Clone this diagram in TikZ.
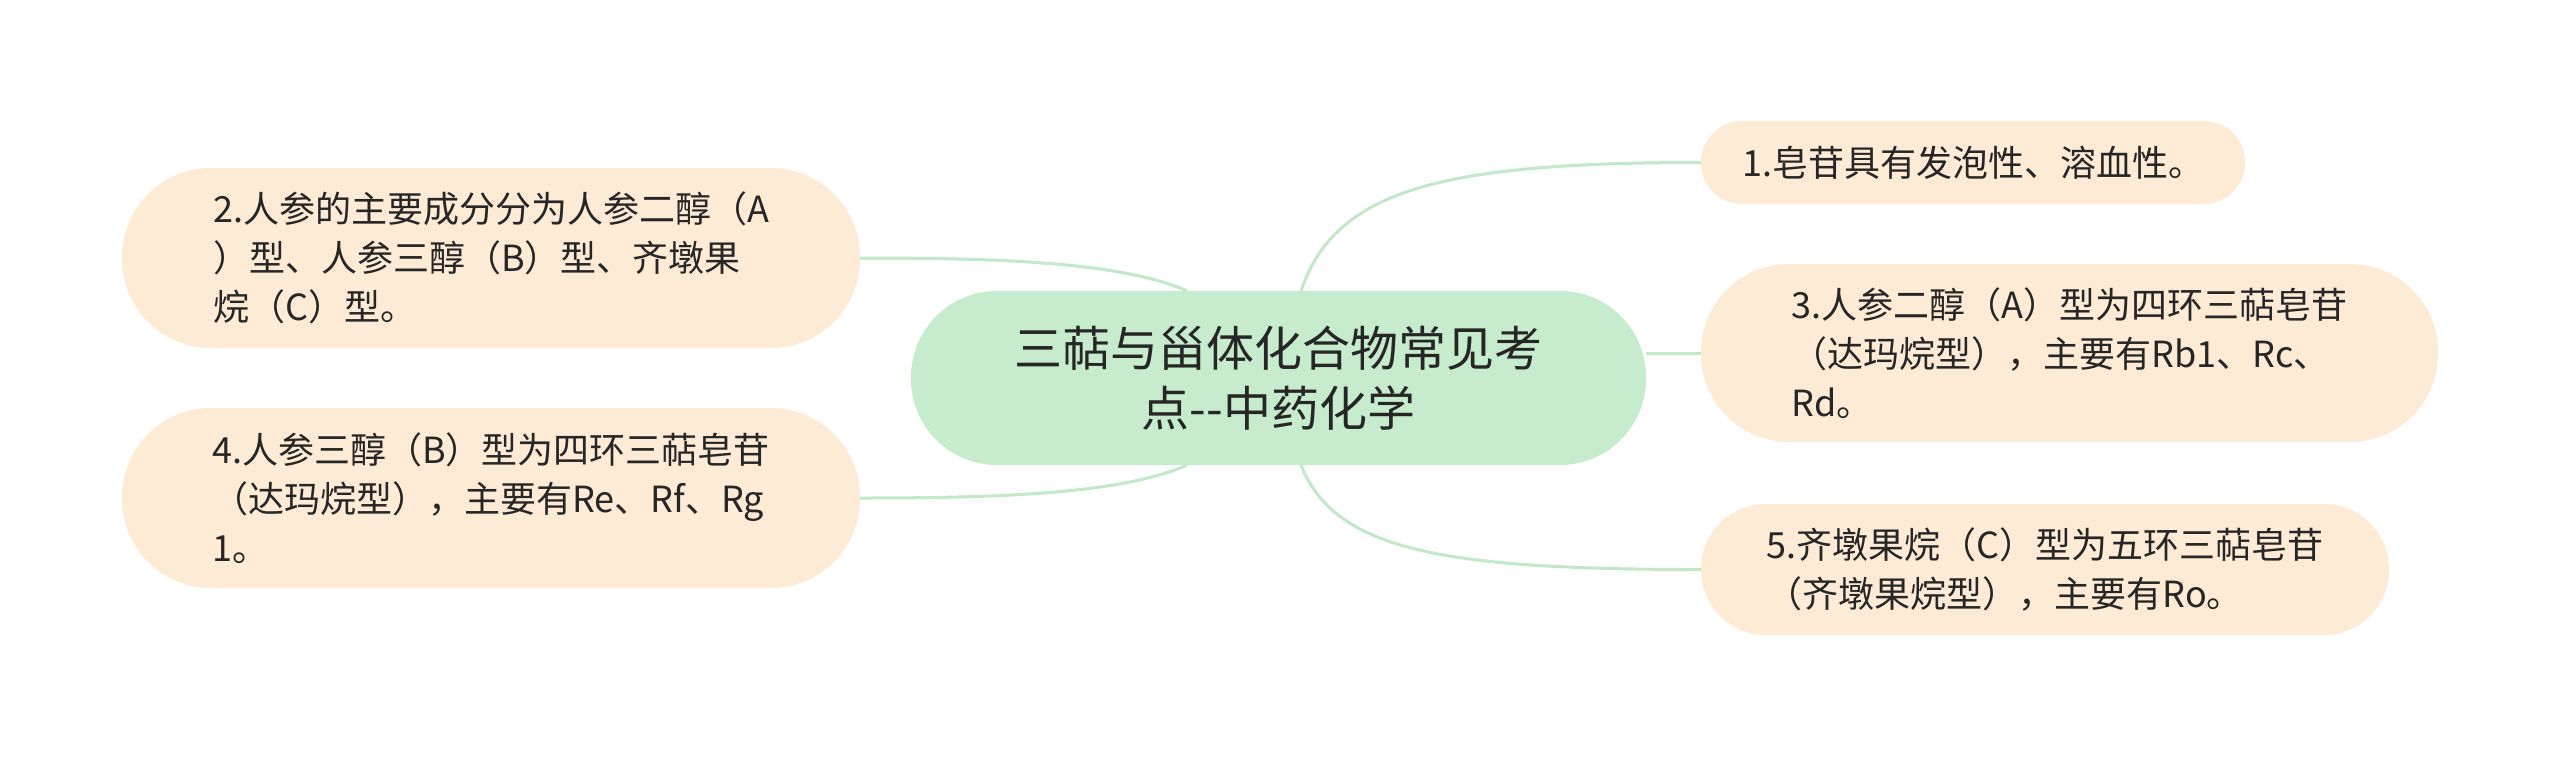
\documentclass[tikz,border=0pt]{standalone}
\usepackage{fontspec}
\setmainfont{Noto Sans CJK SC}
\usetikzlibrary{backgrounds}
\definecolor{cfill}{HTML}{C6EBCD}
\definecolor{lfill}{HTML}{FDEBD6}
\definecolor{link}{HTML}{C2E8C8}
\definecolor{txt}{HTML}{262626}
\tikzset{
  center/.style={fill=cfill, draw=none, rounded corners=86pt, minimum width=735pt, minimum height=174pt,
    text=txt, align=center, font=\fontsize{48}{60}\selectfont, inner sep=0pt},
  leaf/.style={fill=lfill, draw=none, text=txt, align=left, font=\fontsize{36}{49}\selectfont, inner sep=0pt},
  linkline/.style={draw=link, line width=3pt},
}
\begin{document}
\begin{tikzpicture}[x=1pt,y=-1pt]
\useasboundingbox (0,0) rectangle (2560,756);
\node[center] (c) at (1278.5,378) {三萜与甾体化合物常见考\\点-{}-中药化学};
\node[leaf, rounded corners=89pt, minimum width=738pt, minimum height=180pt] (n2) at (491,258)
  {2.人参的主要成分分为人参二醇（A\\）型、人参三醇（B）型、齐墩果\\烷（C）型。};
\node[leaf, rounded corners=89pt, minimum width=738pt, minimum height=180pt] (n4) at (491,498)
  {4.人参三醇（B）型为四环三萜皂苷\\（达玛烷型），主要有Re、Rf、Rg\\1。};
\node[leaf, rounded corners=41pt, minimum width=544pt, minimum height=83pt] (n1) at (1973,162.5)
  {1.皂苷具有发泡性、溶血性。};
\node[leaf, rounded corners=88pt, minimum width=737pt, minimum height=178pt] (n3) at (2069.5,353)
  {3.人参二醇（A）型为四环三萜皂苷\\（达玛烷型），主要有Rb1、Rc、\\Rd。};
\node[leaf, rounded corners=65pt, minimum width=688pt, minimum height=131pt] (n5) at (2045,569.5)
  {5.齐墩果烷（C）型为五环三萜皂苷\\（齐墩果烷型），主要有Ro。};
\begin{scope}[on background layer]
  \fill[white] (0,0) rectangle (2560,756);
  \draw[linkline] ([xshift=22.5pt]c.north) .. controls (1335,190) and (1440,162.5) .. (n1.west);
  \draw[linkline] ([yshift=25pt]c.east) -- (n3.west);
  \draw[linkline] ([xshift=22.5pt]c.south) .. controls (1335,550) and (1440,569.5) .. (n5.west);
  \draw[linkline] (n2.east) .. controls (1000,258) and (1120,262) .. ([xshift=-91.5pt]c.north);
  \draw[linkline] (n4.east) .. controls (1000,498) and (1120,494) .. ([xshift=-91.5pt]c.south);
\end{scope}
\end{tikzpicture}
\end{document}
